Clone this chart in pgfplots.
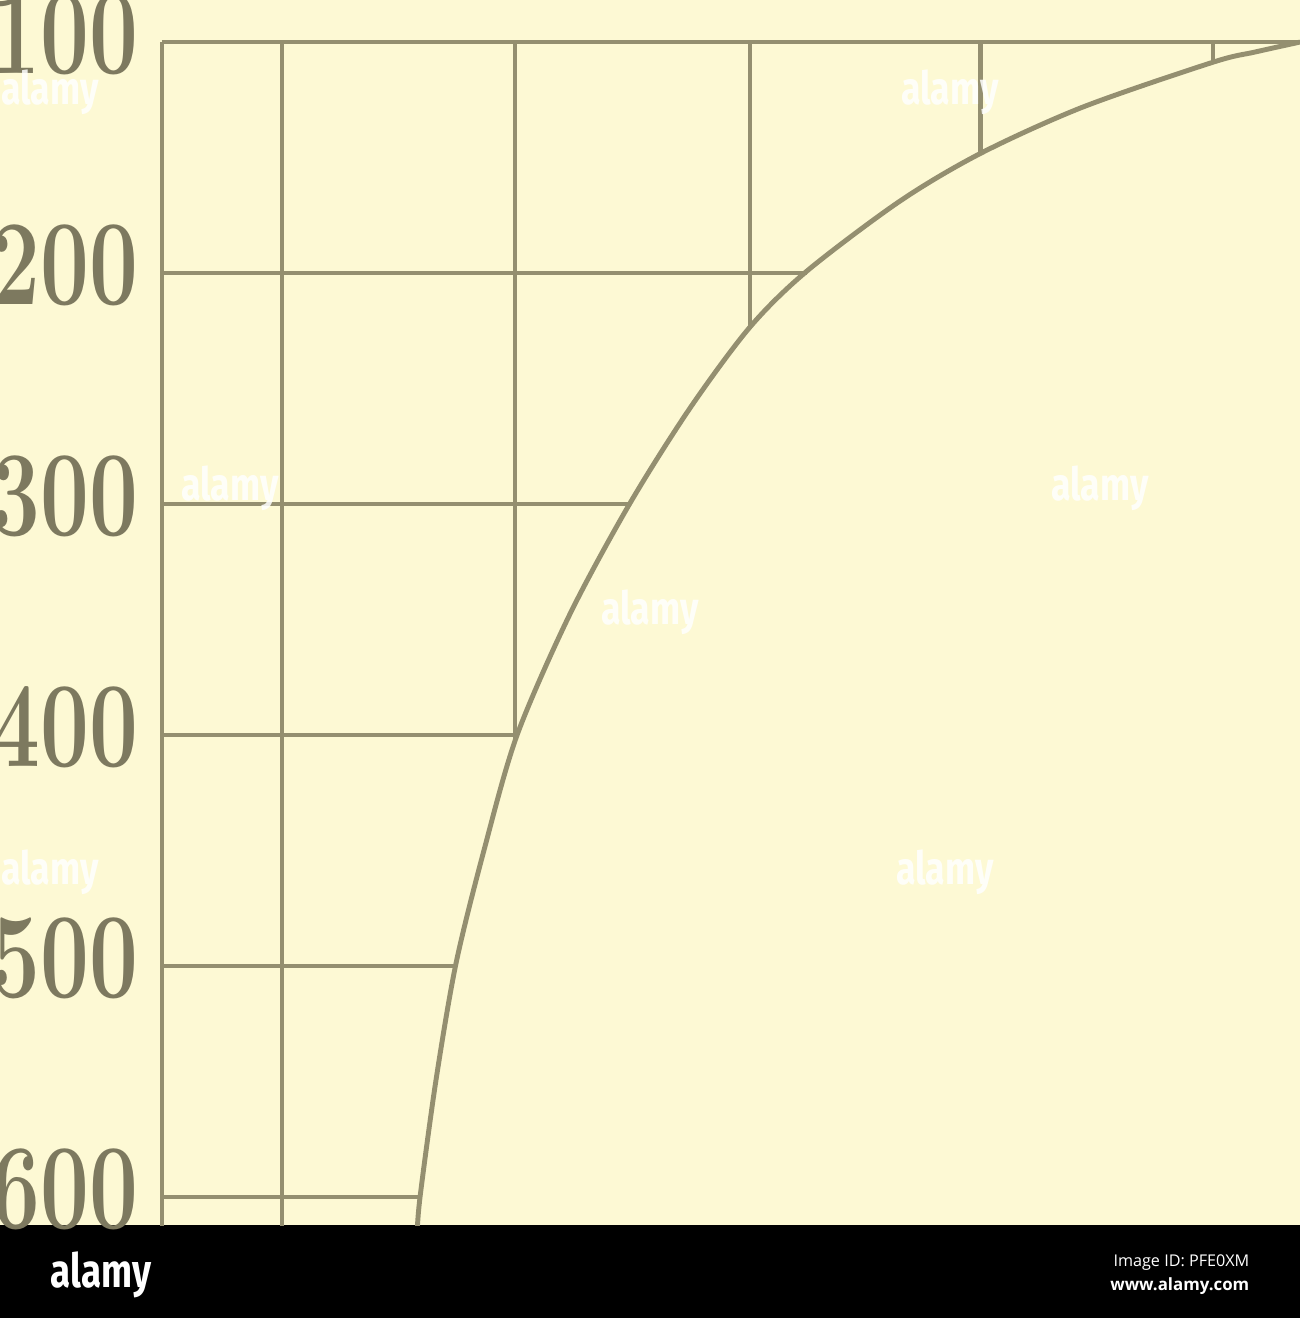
\documentclass[border=0pt]{standalone}
\usepackage{pgfplots}
\pgfplotsset{compat=1.18}
\usepackage{fontspec}
\newfontfamily\logofont{Fira Sans}
\newfontfamily\idfont{Open Sans}
\definecolor{cream}{RGB}{253,249,212}
\definecolor{ink}{RGB}{148,143,112}
\definecolor{numink}{RGB}{125,121,95}
\newcommand{\yl}[1]{\scalebox{1}[1.40]{#1}}
\begin{document}
\begin{tikzpicture}
\useasboundingbox (0mm,0mm) rectangle (130mm,131.8mm);
\clip (0mm,0mm) rectangle (130mm,131.8mm);
% background (1 px = 0.1 mm)
\fill[cream] (0mm,9.3mm) rectangle (130mm,131.8mm);
\fill[black] (0mm,0mm) rectangle (130mm,9.3mm);
\begin{axis}[
  at={(15mm,9.3mm)}, anchor=south west,
  scale only axis, width=115mm, height=122.5mm,
  xmin=-5.19, xmax=492.6, ymin=81.8, ymax=612.1, y dir=reverse,
  axis line style={draw=none}, xtick=\empty,
  ytick={100,200,300,400,500,600},
  yticklabels={\yl{100},\yl{200},\yl{300},\yl{400},\yl{500},\yl{600}},
  major tick length=0pt,
  yticklabel style={font=\bfseries\fontsize{24.7}{26}\selectfont, text=numink,
    inner sep=0pt, anchor=east, xshift=-1.1mm, yshift=0.8mm},
  clip=true,
]
% axes / frame lines
\addplot[ink, line width=1.35pt] coordinates {(0,100) (0,615)};
\addplot[ink, line width=1.35pt] coordinates {(0,100) (492.6,100)};
% horizontal lines up to the curve
\addplot[ink, line width=1.3pt] coordinates {(0,200) (279.2,200)};
\addplot[ink, line width=1.3pt] coordinates {(0,300) (202.6,300)};
\addplot[ink, line width=1.3pt] coordinates {(0,400) (153.7,400)};
\addplot[ink, line width=1.3pt] coordinates {(0,500) (127.3,500)};
\addplot[ink, line width=1.3pt] coordinates {(0,600) (111.7,600)};
% vertical lines down to the curve
\addplot[ink, line width=1.3pt] coordinates {(51.9,100) (51.9,615)};
\addplot[ink, line width=1.3pt] coordinates {(152.8,100) (152.8,402)};
\addplot[ink, line width=1.3pt] coordinates {(254.5,100) (254.5,223.4)};
\addplot[ink, line width=1.3pt] coordinates {(354.3,100) (354.3,148.1)};
\addplot[ink, line width=1.3pt] coordinates {(455.0,100) (455.0,108.7)};
% the curve
\addplot[ink, line width=1.4pt, smooth] coordinates {
 (492.6,100.0) (473.2,104.3) (455.0,108.7) (398.7,128.1) (354.5,148.1)
 (319.5,168.8) (279.2,199.1) (254.5,223.4) (228.6,258.4) (202.6,299.6)
 (176.6,347.6) (153.7,400.0) (139.4,449.8) (127.3,498.7) (118.6,549.4)
 (111.7,600.0) (110.4,616.5)};
\end{axis}
% watermark text
\foreach \px/\py in {5/122.6,95/122.6,23/83.0,65/70.6,110/83.0,5/44.6,94.5/44.6}{
  \node[white, opacity=0.85, font=\logofont\bfseries\fontsize{13}{13}\selectfont, xscale=0.78] at (\px mm,\py mm) {alamy};
}
% bottom band
\node[white, anchor=base west, font=\logofont\bfseries\fontsize{13.4}{14}\selectfont, xscale=0.78, inner sep=0pt] at (5mm,3.1mm) {alamy};
\node[white, anchor=base east, font=\idfont\fontsize{4.6}{5}\selectfont, inner sep=0pt] at (125mm,5.1mm) {Image ID: PFE0XM};
\node[white, anchor=base east, font=\idfont\bfseries\fontsize{4.8}{5}\selectfont, inner sep=0pt] at (125mm,2.8mm) {www.alamy.com};
\end{tikzpicture}
\end{document}
